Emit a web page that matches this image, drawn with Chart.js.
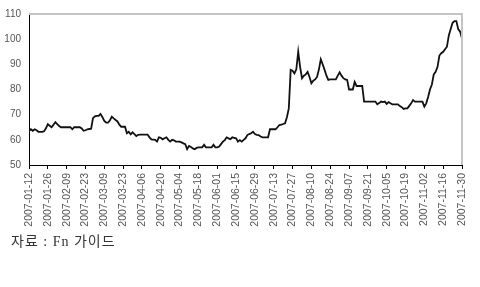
<!DOCTYPE html>
<html>
<head>
<meta charset="utf-8">
<script src="https://cdn.jsdelivr.net/npm/chart.js@4/dist/chart.umd.min.js"></script>
<style>
  html, body { margin: 0; padding: 0; background: #fff; }
  #wrap { position: relative; width: 480px; height: 287px; }
  #source {
    position: absolute; left: 11px; top: 230px;
    font-family: "Liberation Serif", "Noto Sans CJK KR", serif;
    font-size: 14px; color: #333; letter-spacing: 1px;
  }
</style>
</head>
<body>
<div id="wrap">
  <canvas id="price" width="480" height="287"></canvas>
  <div id="source">자료 : Fn 가이드</div>
</div>
<script>
// x tick labels, one every 10 trading days
const tickLabels = [
  '2007-01-12', '2007-01-26', '2007-02-09', '2007-02-23', '2007-03-09', '2007-03-23',
  '2007-04-06', '2007-04-20', '2007-05-04', '2007-05-18', '2007-06-01', '2007-06-15',
  '2007-06-29', '2007-07-13', '2007-07-27', '2007-08-10', '2007-08-24', '2007-09-07',
  '2007-09-21', '2007-10-05', '2007-10-19', '2007-11-02', '2007-11-16', '2007-11-30'
]

// daily values
const prices = [
  63.5, 64.2, 63.6, 64.2, 63.8, 63.2, 63.2, 63.2, 63.4, 64.6,
  66.2, 65.6, 65.0, 66.0, 67.0, 66.2, 65.5, 65.0, 65.0, 65.0,
  65.0, 65.0, 65.0, 64.2, 65.0, 65.0, 65.0, 65.0, 64.5, 63.6,
  63.8, 64.2, 64.3, 64.4, 68.6, 69.3, 69.5, 69.5, 70.3, 69.0,
  67.5, 66.8, 66.8, 67.8, 69.2, 68.5, 67.9, 67.3, 66.0, 65.2,
  65.2, 65.2, 62.6, 63.2, 62.2, 63.0, 62.3, 61.5, 62.0, 62.1,
  62.1, 62.1, 62.1, 62.1, 61.0, 60.2, 60.1, 60.0, 59.3, 61.0,
  60.8, 60.2, 60.6, 61.0, 60.0, 59.3, 60.0, 59.8, 59.3, 59.3,
  59.3, 59.0, 58.6, 58.3, 56.3, 57.6, 57.2, 56.6, 56.3, 56.8,
  57.0, 57.0, 57.0, 58.0, 57.0, 57.0, 57.0, 57.0, 58.0, 57.0,
  57.0, 57.3, 58.3, 59.3, 59.9, 61.0, 60.6, 60.3, 61.0, 60.8,
  60.6, 59.3, 59.9, 59.3, 60.0, 60.6, 61.9, 62.3, 62.6, 63.2,
  62.3, 62.0, 61.9, 61.3, 61.0, 61.0, 61.0, 61.0, 64.2, 64.2,
  64.2, 64.2, 65.0, 65.9, 66.0, 66.3, 66.6, 69.0, 72.5, 87.8,
  87.5, 86.4, 88.0, 95.0, 89.0, 84.5, 85.5, 86.0, 87.0, 85.0,
  82.5, 83.5, 84.0, 85.0, 88.0, 92.0, 90.0, 87.8, 85.5, 83.8,
  84.0, 84.0, 84.0, 84.0, 85.5, 86.8, 85.5, 84.5, 84.0, 83.8,
  80.0, 80.0, 80.0, 83.0, 81.4, 81.4, 81.4, 81.4, 75.2, 75.2,
  75.2, 75.2, 75.2, 75.2, 75.2, 74.1, 74.6, 75.2, 75.0, 75.2,
  74.3, 75.0, 74.5, 74.1, 74.1, 74.1, 74.1, 73.4, 73.0, 72.3,
  72.5, 72.5, 73.5, 74.5, 75.8, 75.2, 75.2, 75.2, 75.2, 75.2,
  73.2, 74.5, 77.0, 80.0, 82.0, 86.0, 87.0, 89.0, 93.5, 94.4,
  95.0, 96.0, 97.0, 101.5, 104.0, 106.5, 107.2, 107.2, 104.0, 103.0,
  100.3
]

const yMin = 50
const yMax = 110
const yStep = 10
const labelStep = 10

// gray frame on top and right like the original
const framePlugin = {
  id: 'frame',
  afterDraw(chart) {
    const { ctx, chartArea: a } = chart
    ctx.save()
    ctx.strokeStyle = '#c4c4c4'
    ctx.lineWidth = 2
    ctx.beginPath()
    ctx.moveTo(a.left, a.top)
    ctx.lineTo(a.right, a.top)
    ctx.lineTo(a.right, a.bottom)
    ctx.stroke()
    ctx.restore()
  }
}

const ctx = document.getElementById('price')
new Chart(ctx, {
  type: 'line',
  data: {
    datasets: [{
      data: prices.map((v, i) => ({ x: i, y: v })),
      borderColor: '#111',
      borderWidth: 1.8,
      pointRadius: 0,
      tension: 0,
      fill: false
    }]
  },
  options: {
    responsive: false,
    animation: false,
    layout: { padding: { top: 14, right: 18, left: 0, bottom: 0 } },
    plugins: {
      legend: { display: false },
      tooltip: { enabled: false }
    },
    scales: {
      x: {
        type: 'linear',
        min: 0,
        max: prices.length - 1,
        afterFit: (scale) => { scale.height = 122 },
        grid: { drawOnChartArea: false, drawTicks: true, tickLength: 4, tickColor: '#000' },
        border: { color: '#000', width: 1 },
        ticks: {
          stepSize: labelStep,
          autoSkip: false,
          minRotation: 90,
          maxRotation: 90,
          padding: 4,
          color: '#555',
          font: { family: 'Liberation Sans, Arial, sans-serif', size: 10.5 },
          callback: (value) => tickLabels[value / labelStep]
        }
      },
      y: {
        min: yMin,
        max: yMax,
        afterFit: (scale) => { scale.width = 29 },
        grid: { display: false, drawTicks: false },
        border: { display: true, color: '#000', width: 1 },
        ticks: {
          stepSize: yStep,
          padding: 8,
          color: '#555',
          font: { family: 'Liberation Sans, Arial, sans-serif', size: 10 }
        }
      }
    }
  },
  plugins: [framePlugin]
})
</script>
</body>
</html>
